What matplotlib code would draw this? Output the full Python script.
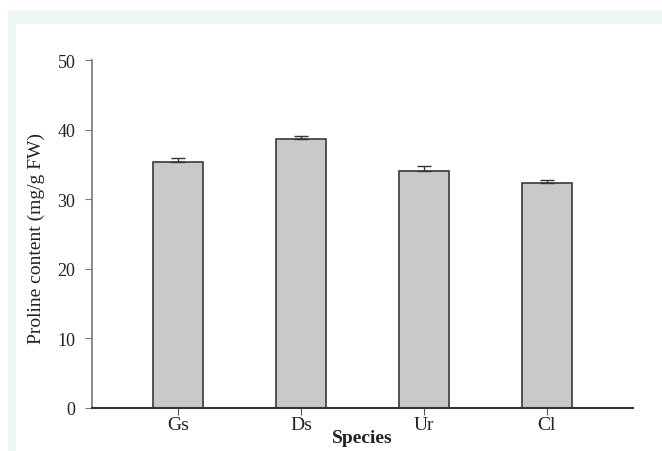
import matplotlib.pyplot as plt
from matplotlib.patches import Rectangle
import numpy as np

species = ['Gs', 'Ds', 'Ur', 'Cl']
proline = [35.4, 38.6, 34.1, 32.3]
proline_err = [0.5, 0.5, 0.6, 0.4]

plt.rcParams['font.family'] = ['Liberation Serif', 'DejaVu Serif']

fig = plt.figure(figsize=(6.62, 4.52), dpi=100)
fig.patch.set_facecolor('white')

# mint frame strip along top and left
fig.patches.append(Rectangle((8 / 662, 0), 654 / 662, 1 - 11 / 452,
                             transform=fig.transFigure, facecolor='#eef7f2',
                             edgecolor='none', zorder=-2))
fig.patches.append(Rectangle((16 / 662, 0), 646 / 662, 1 - 25 / 452,
                             transform=fig.transFigure, facecolor='white',
                             edgecolor='none', zorder=-1))

ax = fig.add_axes([92 / 662, 1 - 409 / 452, (633 - 92) / 662, (409 - 61) / 452])
ax.patch.set_alpha(0)

x = np.arange(len(species))
ax.bar(x, proline, width=0.4, color='#c8c9cb', edgecolor='#3a3a3a', linewidth=1.2)
ax.errorbar(x, proline, yerr=[np.zeros(len(x)), proline_err], fmt='none',
            ecolor='#333333', elinewidth=1, capsize=5, capthick=1)

ax.set_xlim(-0.7, 3.7)
ax.set_ylim(0, 50)
ax.set_yticks(np.arange(0, 51, 10))
ax.set_xticks(x)
ax.set_xticklabels(species)

for s in ['top', 'right']:
    ax.spines[s].set_visible(False)
ax.spines['left'].set_color('#777777')
ax.spines['left'].set_linewidth(1.2)
ax.spines['bottom'].set_color('#333333')
ax.spines['bottom'].set_linewidth(1.5)
ax.tick_params(axis='y', colors='#777777', labelcolor='#222222', length=5,
               labelsize=13, pad=7)
ax.tick_params(axis='x', colors='#555555', labelcolor='#222222', length=5,
               labelsize=14, pad=1)

ax.set_ylabel('Proline content (mg/g FW)', fontsize=14, color='#222222')
ax.yaxis.set_label_coords(-0.087, 0.49)
ax.set_xlabel('Species', fontsize=14, fontweight='bold', color='#222222', labelpad=-3)

fig.savefig('out.png', dpi=100)
